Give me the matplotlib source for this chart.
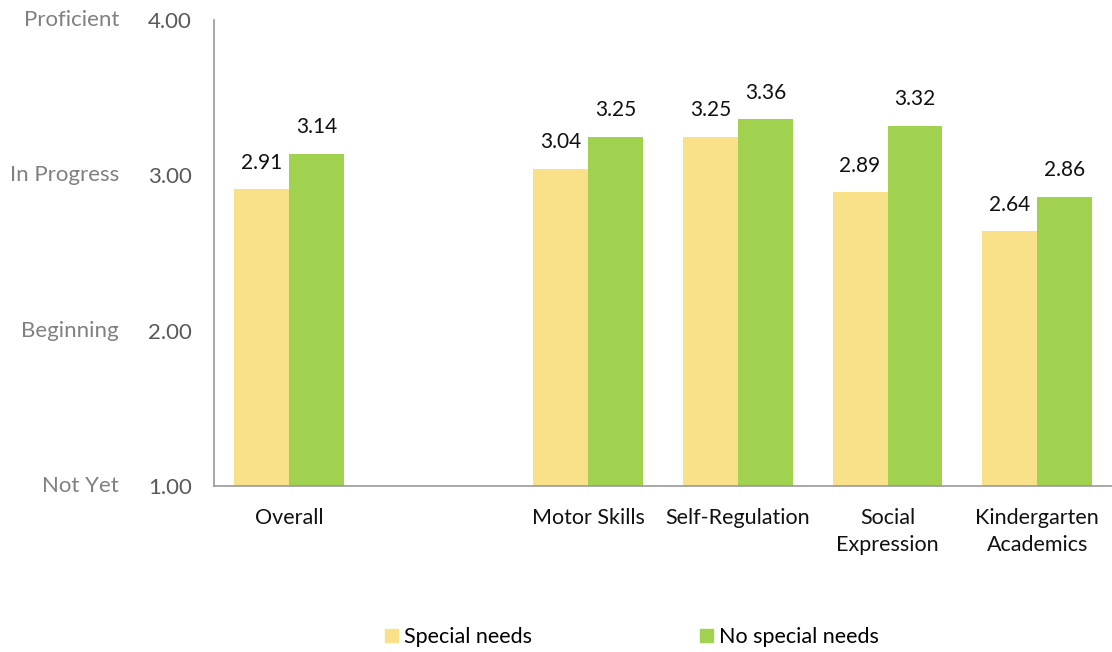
import matplotlib.pyplot as plt
from matplotlib.patches import Patch
from matplotlib.transforms import blended_transform_factory
import numpy as np

plt.rcParams["font.family"] = ["Lato", "DejaVu Sans"]

categories = ["Overall", "", "Motor Skills", "Self-Regulation", "Social\nExpression", "Kindergarten\nAcademics"]
special = [2.91, None, 3.04, 3.25, 2.89, 2.64]
no_special = [3.14, None, 3.25, 3.36, 3.32, 2.86]
level_names = ["Not Yet", "Beginning", "In Progress", "Proficient"]
level_values = [1, 2, 3, 4]

yellow = "#F8E189"
green = "#A0D14F"

fig = plt.figure(figsize=(11.12, 6.52), dpi=100)
ax = fig.add_axes([214 / 1112, 1 - 486 / 652, 1 - 214 / 1112, (486 - 20) / 652])

x = np.arange(len(categories))
w = 0.367
for i in range(len(categories)):
    if special[i] is None:
        continue
    ax.bar(x[i] - w / 2, special[i] - 1, w, bottom=1, color=yellow)
    ax.bar(x[i] + w / 2, no_special[i] - 1, w, bottom=1, color=green)
    ax.annotate(f"{special[i]:.2f}", (x[i] - w / 2, special[i]), xytext=(0, 12),
                textcoords="offset points", ha="center", va="bottom", fontsize=15, color="#111111")
    ax.annotate(f"{no_special[i]:.2f}", (x[i] + w / 2, no_special[i]), xytext=(0, 12),
                textcoords="offset points", ha="center", va="bottom", fontsize=15, color="#111111")

ax.set_xlim(-0.5, len(categories) - 0.5)
ax.set_ylim(1, 4)
ax.set_yticks(level_values)
ax.set_yticklabels([f"{v:.2f}" for v in level_values], fontsize=16, color="#595959")
ax.tick_params(axis="y", length=0, pad=16)
ax.set_xticks(x)
ax.set_xticklabels(categories, fontsize=15.5, color="#111111", va="top", linespacing=1.4)
ax.tick_params(axis="x", length=0, pad=16)

for s in ["top", "right"]:
    ax.spines[s].set_visible(False)
for s in ["left", "bottom"]:
    ax.spines[s].set_color("#999999")
    ax.spines[s].set_linewidth(1.2)

lvl_tr = blended_transform_factory(fig.transFigure, ax.transData)
for name, v in zip(level_names, level_values):
    ax.text(119 / 1112, v, name, transform=lvl_tr, ha="right", va="center",
            fontsize=16, color="#808080", clip_on=False)

handles = [Patch(color=yellow, label="Special needs"), Patch(color=green, label="No special needs")]
fig.legend(handles=handles, loc="center", bbox_to_anchor=(632 / 1112, 1 - 637 / 652), ncol=2,
           frameon=False, fontsize=15.5, handlelength=0.6, handleheight=0.6, handletextpad=0.3,
           columnspacing=7.8)

fig.savefig("out.png", dpi=100)
